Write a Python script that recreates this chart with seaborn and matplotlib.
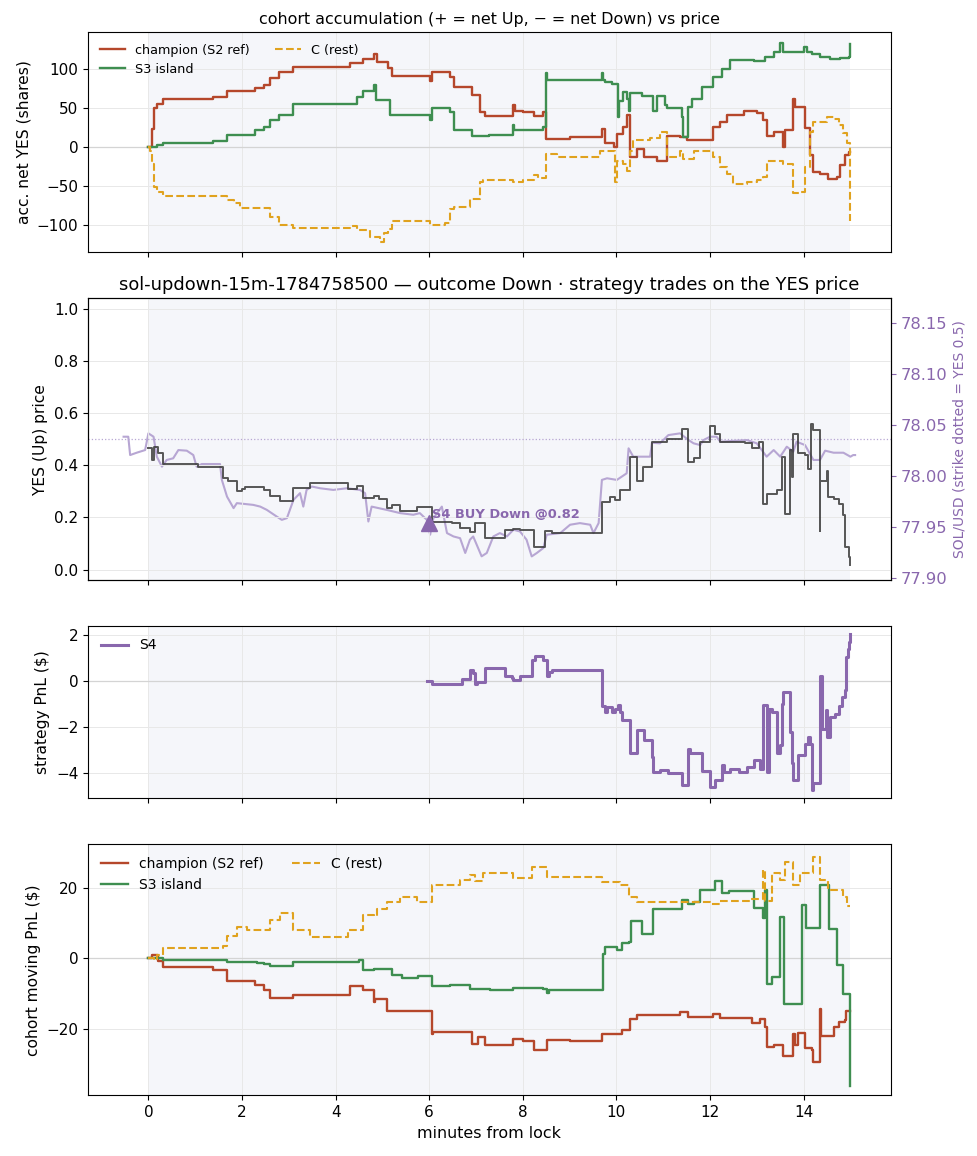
import matplotlib
matplotlib.use("Agg")
import matplotlib.pyplot as plt
import seaborn as sns

# ---- panel 1: accumulated net YES shares per cohort ----
acc_champ_t = [0.0, 0.07, 0.11, 0.18, 0.32, 1.39, 1.68, 2.28, 2.46, 2.6, 2.78, 3.1, 4.31, 4.59, 4.81, 4.88,
               5.13, 5.2, 6.02, 6.07, 6.45, 6.52, 6.91, 7.09, 7.19, 7.80, 7.83, 8.01, 8.23, 8.44, 8.49, 9.01,
               9.69, 9.76, 9.94, 10.01, 10.15, 10.22, 10.29, 10.44, 10.58, 10.86, 11.08, 11.36, 11.50, 12.07,
               12.22, 12.36, 12.72, 13.0, 13.14, 13.21, 13.36, 13.57, 13.60, 13.78, 13.82, 14.03, 14.14, 14.21,
               14.35, 14.53, 14.71, 14.78, 14.89, 14.96, 15.0]
acc_champ_v = [0, 24, 51, 55, 62, 64, 72, 76, 80, 89, 97, 103, 108, 113, 120, 110,
               102, 92, 85, 97, 90, 77, 67, 45, 40, 54, 47, 45, 40, 45, 11, 13,
               24, 5, 1, 17, 26, 41, -12, -2, -12, -17, 15, 13, 9, 26,
               32, 42, 47, 44, 35, 15, 20, 0, 22, 62, 52, 25, -10, -32,
               -34, -41, -38, -23, -10, -6, -6]

acc_s3_t = [0.0, 0.18, 0.32, 1.39, 1.68, 2.28, 2.46, 2.6, 2.78, 3.1, 4.45, 4.59, 4.81, 4.86, 5.16, 6.02,
            6.05, 6.07, 6.45, 6.52, 6.91, 7.28, 7.80, 7.82, 8.44, 8.49, 8.51, 9.69, 9.71, 9.76, 9.90, 10.04,
            10.06, 10.15, 10.22, 10.26, 10.30, 10.54, 10.79, 10.86, 11.04, 11.08, 11.40, 11.43, 11.54, 11.61,
            11.82, 12.07, 12.25, 12.43, 12.93, 13.18, 13.36, 13.50, 13.55, 14.0, 14.07, 14.17, 14.35, 14.57,
            14.78, 14.98, 15.0]
acc_s3_v = [0, 3, 6, 8, 16, 22, 26, 35, 42, 56, 64, 72, 80, 61, 41, 35,
            43, 50, 45, 22, 14, 16, 28, 22, 26, 95, 86, 95, 86, 84, 81, 39,
            60, 71, 62, 47, 69, 66, 47, 66, 54, 50, 39, 13, 52, 62,
            77, 90, 101, 112, 111, 116, 122, 134, 122, 128, 122, 119, 116, 113,
            115, 116, 132]

acc_rest_t = [0.0, 0.04, 0.07, 0.11, 0.18, 0.32, 1.68, 1.82, 1.96, 2.39, 2.6, 2.78, 3.1, 4.31, 4.45, 4.74,
              4.95, 5.03, 5.13, 5.2, 6.02, 6.34, 6.45, 6.52, 6.87, 7.09, 7.16, 7.80, 8.01, 8.23, 8.33, 8.49,
              8.73, 9.37, 9.66, 9.98, 10.01, 10.15, 10.22, 10.29, 10.36, 10.72, 10.93, 11.08, 11.36, 11.43,
              11.65, 12.07, 12.22, 12.36, 12.50, 12.79, 13.0, 13.14, 13.21, 13.57, 13.78, 13.92, 14.03, 14.14,
              14.21, 14.50, 14.64, 14.75, 14.85, 14.92, 14.99]
acc_rest_v = [0, -5, -21, -51, -57, -62, -68, -72, -78, -78, -89, -100, -103, -101, -106, -115,
              -121, -110, -105, -94, -99, -97, -79, -77, -66, -45, -42, -45, -42, -35, -40, -9,
              -12, -12, -5, -45, -17, -22, -30, -5, 10, 12, 20, -12, -5, -15,
              -5, -12, -25, -34, -47, -45, -42, -38, -18, -22, -59, -57, -25, 20,
              33, 39, 36, 28, 18, 5, -95]

# ---- panel 2: YES price (step) and SOL/USD spot ----
yes_t = [0.0, 0.07, 0.11, 0.21, 0.32, 1.07, 1.6, 1.71, 1.89, 2.0, 2.07, 2.46, 2.6, 2.81, 3.1, 3.45,
         4.27, 4.45, 4.59, 4.81, 4.92, 5.09, 5.2, 5.38, 5.73, 6.05, 6.48, 6.66, 6.87, 6.98, 7.19, 7.62,
         7.80, 7.94, 8.23, 8.48, 8.62, 9.69, 9.86, 9.97, 10.08, 10.29, 10.44, 10.56, 10.76, 11.08, 11.40,
         11.54, 11.65, 11.79, 12.0, 12.11, 12.22, 12.75, 12.89, 13.04, 13.14, 13.21, 13.43, 13.54, 13.61,
         13.71, 13.75, 13.78, 13.89, 14.03, 14.10, 14.16, 14.21, 14.34, 14.35, 14.50, 14.53, 14.64, 14.75,
         14.85, 14.89, 14.96, 14.99]
yes_p = [0.464, 0.42, 0.468, 0.445, 0.403, 0.393, 0.349, 0.34, 0.301, 0.31, 0.316, 0.305, 0.281, 0.263,
         0.312, 0.332, 0.31, 0.32, 0.275, 0.28, 0.27, 0.234, 0.249, 0.224, 0.239, 0.182, 0.178, 0.161,
         0.142, 0.178, 0.121, 0.15, 0.155, 0.15, 0.087, 0.148, 0.14, 0.259, 0.278, 0.268, 0.306, 0.431,
         0.339, 0.393, 0.489, 0.50, 0.54, 0.413, 0.426, 0.489, 0.55, 0.521, 0.489, 0.485, 0.465, 0.489,
         0.253, 0.291, 0.304, 0.431, 0.212, 0.46, 0.355, 0.521, 0.445, 0.44, 0.387, 0.559, 0.534, 0.148,
         0.339, 0.377, 0.277, 0.27, 0.253, 0.208, 0.087, 0.048, 0.016]

sol_t = [-0.53, -0.43, -0.39, -0.25, -0.07, 0.0, 0.11, 0.18, 0.29, 0.39, 0.53, 0.64, 0.82, 0.96, 1.03,
         1.14, 1.53, 1.57, 1.68, 1.82, 1.89, 2.24, 2.39, 2.53, 2.74, 2.85, 2.96, 3.1, 3.24, 3.31, 3.38,
         3.49, 3.67, 3.95, 4.24, 4.52, 4.63, 4.70, 4.77, 5.09, 5.38, 5.66, 5.80, 5.95, 6.02, 6.09, 6.27,
         6.38, 6.52, 6.66, 6.77, 6.87, 6.94, 7.12, 7.23, 7.37, 7.51, 7.66, 7.80, 7.94, 8.08, 8.19, 8.30,
         8.44, 8.51, 8.80, 9.01, 9.22, 9.44, 9.51, 9.62, 9.69, 9.80, 10.01, 10.22, 10.26, 10.36, 10.58,
         10.72, 10.76, 10.93, 11.11, 11.36, 11.54, 11.65, 11.79, 11.86, 12.0, 12.14, 12.22, 12.79, 13.0,
         13.21, 13.36, 13.50, 13.64, 13.78, 13.85, 14.03, 14.21, 14.35, 14.46, 14.64, 14.85, 15.0, 15.06,
         15.10]
sol_usd = [78.0386, 78.0386, 78.0206, 78.0229, 78.0255, 78.0419, 78.0386, 78.019, 78.0092, 78.0158,
           78.0174, 78.0255, 78.0249, 78.0206, 78.0092, 78.0118, 78.0118, 77.9962, 77.9798, 77.9685,
           77.9734, 77.9717, 77.97, 77.9668, 77.9603, 77.957, 77.9587, 77.9766, 77.9832, 77.97, 77.9864,
           77.9897, 77.988, 77.9864, 77.988, 77.9864, 77.9832, 77.9554, 77.97, 77.9668, 77.9636, 77.962,
           77.9636, 77.957, 77.9424, 77.9587, 77.97, 77.944, 77.9407, 77.939, 77.9245, 77.9375, 77.9407,
           77.9212, 77.9245, 77.9407, 77.944, 77.9407, 77.9473, 77.9456, 77.9375, 77.9211, 77.9245,
           77.9294, 77.9424, 77.944, 77.9522, 77.9538, 77.9522, 77.944, 77.9538, 77.9962, 77.9978,
           77.9962, 78.0027, 78.0272, 78.019, 78.019, 78.019, 78.0327, 78.0321, 78.0402, 78.0419,
           78.0353, 78.0321, 78.0304, 78.0353, 78.0386, 78.0386, 78.0337, 78.0353, 78.0321, 78.019,
           78.0255, 78.019, 78.0288, 78.0239, 78.0337, 78.0304, 78.0158, 78.0158, 78.0249, 78.0229,
           78.0229, 78.019, 78.0206, 78.0206]
strike_usd = 78.0366

trade_t = 6.0
trade_side = "Down"
trade_fill = 0.82

# ---- panel 3: S4 strategy PnL ----
s4_t = [5.95, 6.06, 6.45, 6.70, 6.87, 6.94, 6.98, 7.02, 7.19, 7.62, 7.76, 7.80, 7.94, 8.19, 8.26, 8.44,
        8.51, 8.55, 8.62, 9.69, 9.76, 9.80, 9.90, 9.97, 10.04, 10.08, 10.11, 10.29, 10.44, 10.58, 10.76,
        10.79, 10.93, 11.11, 11.40, 11.54, 11.58, 11.83, 12.0, 12.11, 12.25, 12.29, 12.43, 12.61, 12.79,
        12.93, 13.07, 13.14, 13.21, 13.25, 13.32, 13.43, 13.50, 13.54, 13.57, 13.71, 13.75, 13.78, 13.89,
        14.03, 14.10, 14.14, 14.17, 14.21, 14.34, 14.35, 14.39, 14.48, 14.50, 14.57, 14.68, 14.75, 14.82,
        14.89, 14.91, 14.94, 14.98, 15.0]
s4_pnl = [0.0, -0.14, -0.12, 0.09, 0.48, 0.36, -0.14, -0.02, 0.58, 0.22, 0.16, 0.07, 0.22, 0.94, 1.09,
          0.94, 0.22, 0.41, 0.48, -1.09, -1.34, -1.12, -1.34, -1.19, -1.04, -1.34, -1.70, -3.14, -2.10,
          -2.57, -3.29, -3.94, -3.87, -4.01, -4.52, -2.93, -3.14, -3.91, -4.59, -4.28, -3.65, -3.94, -3.80,
          -3.94, -3.72, -3.43, -3.80, -1.04, -3.94, -1.19, -1.34, -3.14, -2.78, -0.97, -0.46, -2.20, -3.55,
          -4.30, -3.22, -2.71, -2.42, -2.71, -4.74, -4.42, -2.06, 0.22, -2.06, -1.26, -2.42, -1.55, -1.41,
          -1.09, -0.68, -0.39, 1.06, 1.42, 1.71, 2.07]

# ---- panel 4: cohort moving PnL ----
pnl_champ_t = [0.0, 0.07, 0.21, 0.32, 1.39, 1.68, 2.28, 2.46, 2.6, 3.1, 4.31, 4.59, 4.81, 4.84, 5.09, 6.05,
               6.09, 6.91, 7.05, 7.19, 7.80, 8.01, 8.23, 8.51, 9.01, 9.69, 10.11, 10.29, 10.44, 11.36, 11.54,
               12.07, 12.22, 12.89, 13.07, 13.18, 13.21, 13.36, 13.57, 13.78, 13.82, 13.89, 14.03, 14.17,
               14.21, 14.35, 14.37, 14.64, 14.75, 14.89, 14.91, 15.0]
pnl_champ_v = [0, 1.1, -0.6, -2.5, -3.4, -6.5, -7.7, -8.9, -11.2, -10.3, -7.9, -9.1, -12.4, -11.5, -14.9,
               -21.5, -21, -24.4, -22.5, -24.6, -23, -23.4, -26.1, -23.1, -23.4, -21.5, -20.5, -17.2, -16.2,
               -15.4, -16.6, -15.8, -17.0, -18.5, -17.2, -19.6, -25.1, -24.6, -27.7, -21.5, -24.8, -21.3,
               -25.4, -26.1, -29.6, -14.5, -22.1, -19.6, -18.2, -17.5, -15.1, -15.1]

pnl_s3_t = [0.0, 0.32, 1.68, 2.32, 2.46, 2.6, 3.1, 4.49, 4.59, 4.81, 5.2, 5.41, 5.77, 6.05, 6.45, 6.87,
            7.30, 7.80, 8.44, 8.51, 8.55, 9.71, 9.76, 10.01, 10.11, 10.26, 10.31, 10.54, 10.79, 11.40,
            11.54, 11.65, 11.79, 12.11, 12.25, 12.40, 12.93, 13.14, 13.18, 13.21, 13.32, 13.50, 13.58,
            13.96, 14.05, 14.34, 14.55, 14.71, 14.85, 15.0]
pnl_s3_v = [0, -0.5, -1, -1.3, -1.6, -2.2, -1, -0.5, -3.4, -3.0, -4.6, -5.7, -4.9, -7.9, -7.7, -8.6,
            -9.0, -8.4, -8.6, -9.8, -8.9, 1.4, 3.3, 2.4, 4.4, 4.7, 10.7, 7.0, 14.2, 16.6,
            15.6, 16.1, 19.4, 22.0, 18.5, 19.2, 14.3, 11.4, 19.4, -7.2, -5.3, 11.9, -12.9,
            15.1, 8.8, 20.9, 8.5, -2.0, -10.1, -36.3]

pnl_rest_t = [0.0, 0.11, 0.18, 0.32, 1.6, 1.68, 1.89, 2.1, 2.6, 2.81, 3.1, 3.45, 4.27, 4.59, 4.81, 4.88,
              5.09, 5.38, 5.73, 6.05, 6.66, 6.87, 6.98, 7.16, 7.80, 8.19, 8.51, 9.69, 10.08, 10.26, 10.44,
              12.0, 12.22, 12.86, 13.14, 13.18, 13.32, 13.50, 13.61, 13.78, 13.93, 14.21, 14.35, 14.53,
              14.85, 14.92, 15.0]
pnl_rest_v = [0, -0.5, 1.0, 2.9, 3.6, 6.3, 9, 8, 11, 12.9, 8.2, 6.0, 8.2, 12.5, 12.0, 14.1,
              16.2, 17.5, 16.2, 20.9, 22.3, 23.7, 22.0, 24.4, 23, 26.1, 23.2, 21.7, 20.9, 17.5, 16.2,
              15.4, 16.5, 16.8, 25.1, 16.5, 24.2, 22.3, 27.5, 21.0, 24.2, 28.9, 22.3, 19.4,
              17.5, 14.9, 14.9]

COL_CHAMP = "#b5472b"
COL_S3 = "#3e8e50"
COL_REST = "#e0a21e"
COL_S4 = "#8967ad"
COL_SOL = "#b7a6d3"
SHADE = "#f5f6fa"

plt.rcParams["font.family"] = ["DejaVu Sans"]
plt.rcParams["font.size"] = 11.2

fig = plt.figure(figsize=(9.78, 11.56), dpi=100)
left, width = 0.09, 0.8207
ax1 = fig.add_axes([left, 0.7823, width, 0.19])
ax2 = fig.add_axes([left, 0.4983, width, 0.2437], sharex=ax1)
ax3 = fig.add_axes([left, 0.3094, width, 0.1491], sharex=ax1)
ax4 = fig.add_axes([left, 0.0525, width, 0.2171], sharex=ax1)

for ax in (ax1, ax2, ax3, ax4):
    if ax is not ax2:
        ax.axvspan(0, 15, color=SHADE, zorder=0, lw=0)
    ax.grid(True, color="#e8e8e8", lw=0.7)
    ax.set_axisbelow(True)
    ax.tick_params(labelsize=11)


def steps(ax, t, v, **kw):
    sns.lineplot(x=t, y=v, ax=ax, drawstyle="steps-post", estimator=None, sort=False, **kw)


# panel 1
ax1.axhline(0, color="#d4d4d4", lw=0.9, zorder=1)
steps(ax1, acc_champ_t, acc_champ_v, color=COL_CHAMP, lw=1.7, label="champion (S2 ref)")
steps(ax1, acc_s3_t, acc_s3_v, color=COL_S3, lw=1.7, label="S3 island")
steps(ax1, acc_rest_t, acc_rest_v, color=COL_REST, lw=1.5, linestyle="--", label="C (rest)")
ax1.set_ylim(-133.8, 147.8)
ax1.set_ylabel("acc. net YES (shares)", fontsize=11.2)
ax1.set_title("cohort accumulation (+ = net Up, \u2212 = net Down) vs price", fontsize=11.4)
ax1.legend(loc="upper left", ncol=2, frameon=False, fontsize=9.2)

# panel 2: SOL on the twin axis, drawn underneath the YES price
axr = ax2.twinx()
axr.axvspan(0, 15, color=SHADE, zorder=0, lw=0)
sns.lineplot(x=sol_t, y=sol_usd, ax=axr, color=COL_SOL, lw=1.5, estimator=None, sort=False)
axr.set_ylim(77.898, 78.1745)
axr.set_yticks([77.90, 77.95, 78.00, 78.05, 78.10, 78.15])
axr.set_ylabel("SOL/USD (strike dotted = YES 0.5)", color=COL_S4, fontsize=10)
axr.tick_params(axis="y", colors=COL_S4, labelsize=11.8)
axr.spines["right"].set_color("black")
ax2.set_zorder(axr.get_zorder() + 1)
ax2.patch.set_visible(False)

ax2.axhline(0.5, color=COL_SOL, lw=0.9, ls=":", zorder=1)
steps(ax2, yes_t, yes_p, color="#3a3a3a", lw=1.4, alpha=0.85)
ax2.plot([trade_t], [1 - trade_fill], marker="^", ms=12, color=COL_S4, ls="none", zorder=5)
ax2.text(trade_t + 0.06, 1 - trade_fill + 0.03, f"S4 BUY {trade_side} @{trade_fill:.2f}",
         color=COL_S4, fontsize=9.4, fontweight="bold", va="center", ha="left", zorder=6)
ax2.set_ylim(-0.04, 1.04)
ax2.set_ylabel("YES (Up) price", fontsize=11.2)
ax2.set_title("sol-updown-15m-1784758500 \u2014 outcome Down \u00b7 strategy trades on the YES price",
              fontsize=12.9)

# panel 3
ax3.axhline(0, color="#d4d4d4", lw=0.9, zorder=1)
steps(ax3, s4_t, s4_pnl, color=COL_S4, lw=2.2, label="S4")
ax3.set_ylim(-5.09, 2.4)
ax3.set_ylabel("strategy PnL ($)", fontsize=11.2)
ax3.legend(loc="upper left", frameon=False, fontsize=10)

# panel 4
ax4.axhline(0, color="#d4d4d4", lw=0.9, zorder=1)
steps(ax4, pnl_champ_t, pnl_champ_v, color=COL_CHAMP, lw=1.7, label="champion (S2 ref)")
steps(ax4, pnl_s3_t, pnl_s3_v, color=COL_S3, lw=1.7, label="S3 island")
steps(ax4, pnl_rest_t, pnl_rest_v, color=COL_REST, lw=1.5, linestyle="--", label="C (rest)")
ax4.set_ylim(-39.0, 32.5)
ax4.set_yticks([-20, 0, 20])
ax4.set_ylabel("cohort moving PnL ($)", fontsize=11.2)
ax4.set_xlabel("minutes from lock", fontsize=11.4)
ax4.legend(loc="upper left", ncol=2, frameon=False, fontsize=10)

ax1.set_xlim(-1.29, 15.86)
ax1.set_xticks([0, 2, 4, 6, 8, 10, 12, 14])
for ax in (ax1, ax2, ax3):
    ax.tick_params(labelbottom=False)
    ax.set_xlabel("")

fig.savefig("out.png", dpi=100)
